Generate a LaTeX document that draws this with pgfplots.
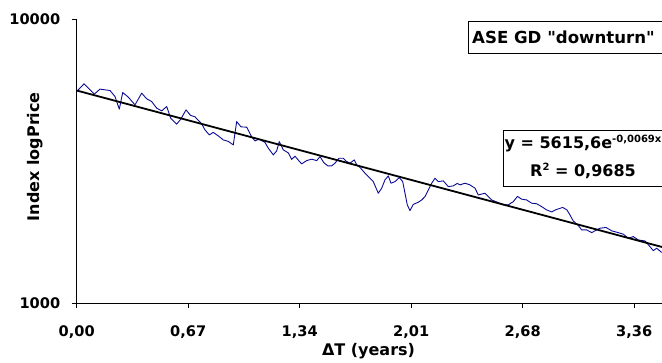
\documentclass[border=0pt]{standalone}
\usepackage{pgfplots}
\pgfplotsset{compat=1.18}
\usepackage{fontspec}
\setmainfont{DejaVu Sans}[Ligatures=TeXOff]
\definecolor{serblue}{RGB}{10,10,150}
\pgfplotstableread{
n price
0.00 5569
2.29 5928
5.52 5453
7.31 5679
8.88 5647
10.45 5615
12.02 5348
13.37 4828
14.44 5524
16.20 5322
18.30 4999
20.40 5497
21.97 5250
23.54 5136
25.11 4867
26.68 4762
28.25 4932
29.50 4489
31.39 4276
32.74 4463
34.31 4801
35.72 4592
37.13 4537
39.23 4286
40.27 4082
41.62 3920
42.87 4000
44.44 3889
46.01 3764
47.58 3719
49.15 3615
50.22 4366
51.57 4183
53.36 4173
54.93 3858
55.96 3734
57.22 3786
59.10 3689
60.14 3520
61.71 3333
62.77 3443
63.59 3713
64.85 3471
66.42 3388
67.48 3214
68.52 3299
69.77 3175
70.62 3099
72.19 3183
73.76 3219
75.33 3183
76.37 3288
77.62 3124
78.88 3049
80.04 3049
81.07 3117
82.33 3245
83.68 3245
84.75 3157
85.78 3117
87.13 3201
87.89 3074
88.92 3012
90.49 2874
93.09 2685
94.66 2443
95.73 2545
96.77 2722
97.80 2812
98.65 2650
99.91 2685
101.26 2773
102.32 2685
103.05 2443
103.77 2223
104.61 2122
105.65 2232
107.22 2271
108.29 2314
109.32 2377
110.36 2509
111.43 2650
112.46 2759
113.50 2685
115.07 2700
116.64 2578
118.20 2593
119.46 2646
120.31 2614
121.88 2650
123.45 2614
125.02 2545
126.05 2410
128.16 2443
130.26 2314
132.33 2264
133.90 2223
135.47 2223
137.04 2283
138.35 2381
139.67 2328
141.24 2314
142.81 2253
144.38 2244
145.95 2192
147.52 2134
149.09 2100
150.44 2138
152.54 2178
153.89 2134
154.83 2049
155.87 1952
157.44 1882
158.51 1815
160.08 1815
161.65 1776
163.21 1815
164.25 1840
166.13 1852
168.02 1800
169.59 1781
171.56 1754
173.13 1697
174.70 1719
176.27 1673
178.38 1660
179.95 1585
180.98 1534
182.05 1565
183.62 1512
}\gdtable
\pgfplotstableread{
n price
0 5615.6
184 1577.7
}\trendtable
\begin{document}
\begin{tikzpicture}
\begin{axis}[
  at={(76.7pt,58.5pt)}, anchor=south west,
  scale only axis, width=586.2pt, height=284.2pt,
  ymode=log, xmin=0, xmax=184, ymin=1000, ymax=10000,
  axis x line*=bottom, axis y line*=left,
  axis line style={line width=1.4pt, black},
  xtick={0,35,70,105,140,175},
  xticklabels={{0,00},{0,67},{1,34},{2,01},{2,68},{3,36}},
  ytick={1000,10000}, yticklabels={1000,10000},
  yminorticks=false, xminorticks=false,
  tick align=outside, major tick length=5pt,
  tick style={line width=1.4pt, black},
  ticklabel style={font=\fontsize{14.6}{16}\selectfont\bfseries},
  xticklabel style={yshift=-14pt},
  yticklabel style={xshift=-8pt},
  xlabel={ΔT (years)},
  ylabel={Index logPrice},
  xlabel style={at={(rel axis cs:0.4978,-0.1847)}, anchor=base, font=\fontsize{16}{18}\selectfont\bfseries},
  ylabel style={at={(rel axis cs:-0.0715,0.5165)}, anchor=center, font=\fontsize{16}{18}\selectfont\bfseries},
]
\addplot[serblue, line width=0.9pt, line join=round] table[x=n, y=price] {\gdtable};
\addplot[black, line width=1.8pt] table[x=n, y=price] {\trendtable};
\end{axis}
\draw[line width=0.9pt, fill=white] (468pt,309pt) rectangle (700pt,341pt);
\node[anchor=base west, inner sep=0pt, font=\fontsize{16.6}{20}\selectfont\bfseries] at (472pt,318pt) {ASE GD "downturn"};
\draw[line width=0.9pt, fill=white] (503pt,175.3pt) rectangle (700pt,231.3pt);
\node[anchor=base, inner sep=0pt, font=\fontsize{16}{18}\selectfont\bfseries] at (583pt,213.7pt) {y = 5615,6e\raisebox{6pt}{\fontsize{10}{10}\selectfont -0,0069x}};
\node[anchor=base, inner sep=0pt, font=\fontsize{16}{18}\selectfont\bfseries] at (583pt,185.3pt) {R\raisebox{6pt}{\fontsize{10}{10}\selectfont 2} = 0,9685};
\pgfresetboundingbox
\useasboundingbox (0pt,0pt) rectangle (662pt,362pt);
\end{tikzpicture}
\end{document}
